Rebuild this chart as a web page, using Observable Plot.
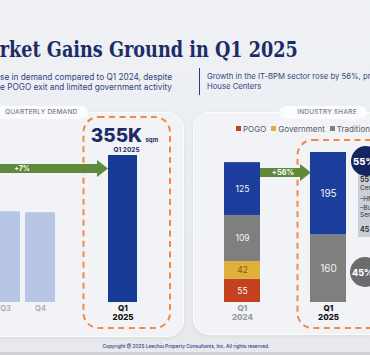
<!DOCTYPE html>
<html><head><meta charset="utf-8">
<script src="https://cdn.jsdelivr.net/npm/d3@7"></script>
<script src="https://cdn.jsdelivr.net/npm/@observablehq/plot@0.6"></script>
<style>
html,body{margin:0;padding:0;}
body{width:370px;height:355px;overflow:hidden;position:relative;
  background:linear-gradient(180deg,#eff1f5 0%,#eaedf1 55%,#e8e9ec 100%);
  font-family:Inter,"Open Sans",sans-serif;}
.abs{position:absolute;}
#title{right:72px;top:36px;white-space:nowrap;font-family:"DejaVu Serif",serif;font-weight:bold;font-size:22px;color:#1c2c66;transform-origin:right center;}
.sub{font-size:8px;line-height:10px;color:#34457e;white-space:nowrap;}
.card{background:#f1f3f6;border:1px solid #fbfcfd;border-radius:16px;box-shadow:0 1px 4px rgba(40,50,80,0.08);}
.pill{background:#fbfcfd;border-radius:7px;height:13px;font-size:6.5px;line-height:13px;color:#7b7b7e;font-weight:500;letter-spacing:0.2px;white-space:nowrap;}
.plot{position:absolute;left:0;top:0;}
#legend{left:236px;top:124px;font-size:8px;color:#5a5a5e;white-space:nowrap;}
#legend span.sw{display:inline-block;width:5px;height:5px;margin-right:2px;vertical-align:1px;}
#legend span.it{margin-right:5px;}
#box{left:358px;top:172px;width:30px;height:65px;background:#cacfd7;overflow:hidden;font-size:6.5px;color:#333;line-height:8px;white-space:nowrap;}
#copy{left:0;width:372px;top:343px;text-align:center;font-size:4.8px;color:#2b3b7d;font-weight:500;white-space:nowrap;}
</style></head>
<body>
<div id="title" class="abs">Office Market Gains Ground in Q1 2025</div>
<div id="subL" class="abs sub" style="right:198px;top:72px;text-align:right;">
  <div>A 7% increase in demand compared to Q1 2024, despite</div>
  <div>the POGO exit and limited government activity</div>
</div>
<div class="abs" style="left:198.5px;top:68px;width:1.5px;height:27px;background:#2c3c78;"></div>
<div id="subR" class="abs sub" style="left:207px;top:72px;">
  <div>Growth in the IT-BPM sector rose by 56%, primarily driven by In-</div>
  <div>House Centers</div>
</div>

<div class="abs card" style="left:-20px;top:112px;width:202px;height:223px;"></div>
<div class="abs card" style="left:193px;top:112px;width:220px;height:221px;"></div>
<div class="abs pill" style="left:-20px;top:106px;width:108px;padding-left:25px;box-sizing:border-box;">QUARTERLY DEMAND</div>
<div class="abs pill" style="left:279px;top:106px;width:88px;text-align:center;padding-left:8px;box-sizing:border-box;">INDUSTRY SHARE</div>

<svg class="abs" style="left:0;top:0" width="370" height="355">
  <rect x="83.5" y="117" width="86.5" height="211" rx="15" fill="none" stroke="#f28a46" stroke-width="2" stroke-dasharray="6 4.5"/>
  <rect x="297.5" y="140" width="120" height="188" rx="15" fill="none" stroke="#f28a46" stroke-width="2" stroke-dasharray="6 4.5"/>
</svg>

<div id="legend" class="abs"></div>
<div id="charts"></div>

<svg id="deco" class="abs" style="left:0;top:0" width="370" height="355"></svg>
<div id="box" class="abs">
  <div style="padding:4px 0 0 2px">
    <div style="font-weight:700;font-size:7px">55% IT-BPM</div>
    <div>Centers</div>
    <div style="margin-top:3px">–HMO</div>
    <div style="margin-top:1px">–Business</div>
    <div style="margin-top:-1px">Services</div>
    <div style="font-weight:700;font-size:7px;margin-top:7px">45% Traditional</div>
  </div>
</div>
<svg id="deco2" class="abs" style="left:0;top:0" width="370" height="355"></svg>
<div id="copy" class="abs">Copyright @ 2025 Leechiu Property Consultants, Inc. All rights reserved.</div>
<div class="abs" style="left:0;top:352px;width:370px;height:3px;background:#cfd1d5;"></div>

<script>
// ---- data ----
const histQuarters = ["Q3", "Q4"];
const histValues = [219, 217];           // thousand sqm
const currentQuarter = "Q1 2025";
const currentValue = 355;                // thousand sqm

const shareQuarters = ["Q1 2024", "Q1 2025"];
const sectors = ["POGO", "Government", "Traditional", "IT-BPM"];
const pogoValues = [55, 0];
const governmentValues = [42, 0];
const traditionalValues = [109, 160];
const itbpmValues = [125, 195];
const legendSectors = ["POGO", "Government", "Traditional"];

// ---- styles ----
const sectorColors = {"POGO": "#c4411f", "Government": "#dfb13b", "Traditional": "#7f7f80", "IT-BPM": "#1d3d9d"};
const FONT = "Inter, 'Open Sans', sans-serif";

const hist = histQuarters.map((q, i) => ({quarter: q, value: histValues[i]}));
const current = [{quarter: currentQuarter, value: currentValue}];
const seriesBySector = {"POGO": pogoValues, "Government": governmentValues, "Traditional": traditionalValues, "IT-BPM": itbpmValues};
const shares = [];
shareQuarters.forEach((q, i) => sectors.forEach(s => {
  const v = seriesBySector[s][i];
  if (v > 0) shares.push({quarter: q, sector: s, value: v});
}));
const totals = shareQuarters.map((q, i) => sectors.reduce((a, s) => a + seriesBySector[s][i], 0));
const totalGrowth = Math.round((totals[1] / totals[0] - 1) * 100);
const itGrowth = Math.round((itbpmValues[1] / itbpmValues[0] - 1) * 100);

const charts = document.getElementById("charts");
function add(p) { p.classList.add("plot"); p.style.background = "transparent"; charts.appendChild(p); }

// left: history bars
add(Plot.plot({
  width: 370, height: 355, margin: 0,
  style: {fontFamily: FONT, background: "transparent"},
  x: {type: "band", domain: histQuarters, range: [-10, 55], paddingInner: 0.143, paddingOuter: 0, axis: null},
  y: {domain: [0, 355], range: [302, 155], axis: null},
  marks: [
    Plot.barY(hist, {x: "quarter", y: "value", fill: "#b8c6e5"}),
    Plot.text(hist, {x: "quarter", y: 0, text: "quarter", dy: 6.5, fill: "#a8aaae", fontSize: 7.5, fontWeight: 600})
  ]
}));

// left: current quarter bar
add(Plot.plot({
  width: 370, height: 355, margin: 0,
  style: {fontFamily: FONT, background: "transparent"},
  x: {type: "band", domain: [currentQuarter], range: [108, 137], padding: 0, axis: null},
  y: {domain: [0, 355], range: [302, 155], axis: null},
  marks: [
    Plot.barY(current, {x: "quarter", y: "value", fill: "#163a96"}),
    Plot.text(current, {x: "quarter", y: "value", text: d => d.value + "K", dx: -6.5, dy: -20, fill: "#1b2c69", fontSize: 19, fontWeight: 800}),
    Plot.text(current, {x: "quarter", y: "value", text: () => "sqm", textAnchor: "start", dx: 22.5, dy: -15, fill: "#1b2c69", fontSize: 6, fontWeight: 700}),
    Plot.text(current, {x: "quarter", y: "value", text: "quarter", dx: 3.5, dy: -6, fill: "#1b2c69", fontSize: 6.5, fontWeight: 700}),
    Plot.text(current, {x: "quarter", y: 0, text: d => d.quarter.replace(" ", "\n"), dy: 10.5, lineHeight: 1.12, fill: "#111", fontSize: 8, fontWeight: 800})
  ]
}));

// right: industry share stacked bars
add(Plot.plot({
  width: 370, height: 355, margin: 0,
  style: {fontFamily: FONT, background: "transparent"},
  color: {type: "identity"},
  x: {type: "band", domain: shareQuarters, range: [223, 346], paddingInner: 0.584, paddingOuter: 0, axis: null},
  y: {domain: [0, 355], range: [302, 152], axis: null},
  marks: [
    Plot.barY(shares, {x: "quarter", y: "value", fill: d => sectorColors[d.sector]}),
    Plot.text(shares, Plot.stackY({x: "quarter", y: "value", text: d => String(d.value),
      fill: d => d.sector === "Government" ? "#74591c" : "#f4f4f6",
      fontSize: d => d.quarter === "Q1 2025" ? 10 : 8.5, fontWeight: 400})),
    Plot.text(shareQuarters, {x: d => d, y: () => 0, text: d => d.replace(" ", "\n"), dy: 10.5, lineHeight: 1.12,
      fill: d => d === "Q1 2025" ? "#111" : "#9b9b9f", fontSize: 8, fontWeight: 800})
  ]
}));

// legend
document.getElementById("legend").innerHTML = legendSectors.map(s =>
  `<span class="sw" style="background:${sectorColors[s]}"></span><span class="it">${s}</span>`).join("");

// arrows and badges
const NS = "http://www.w3.org/2000/svg";
function el(svg, tag, attrs, text) {
  const e = document.createElementNS(NS, tag);
  for (const k in attrs) e.setAttribute(k, attrs[k]);
  if (text != null) e.textContent = text;
  document.getElementById(svg).appendChild(e);
  return e;
}
el("deco", "polygon", {points: "-5,164 97,164 97,160 108,168.5 97,177 97,173 -5,173", fill: "#5f8a3b"});
el("deco", "text", {x: 22, y: 171.3, "text-anchor": "middle", fill: "#fff", "font-size": 7, "font-weight": 700, "font-family": FONT}, `+${totalGrowth}%`);
el("deco", "polygon", {points: "260,168 300,168 300,164 311,172.5 300,181 300,177 260,177", fill: "#5f8a3b"});
el("deco", "text", {x: 283, y: 175.3, "text-anchor": "middle", fill: "#fff", "font-size": 7.5, "font-weight": 700, "font-family": FONT}, `+${itGrowth}%`);

const itShare = Math.round(itbpmValues[1] / totals[1] * 100);
el("deco2", "circle", {cx: 366, cy: 161, r: 15, fill: "#14245e"});
el("deco2", "text", {x: 353, y: 164.5, fill: "#fff", "font-size": 9.5, "font-weight": 800, "font-family": FONT}, `${itShare}%`);
el("deco2", "circle", {cx: 365, cy: 272, r: 15, fill: "#6c6c6e"});
el("deco2", "text", {x: 352, y: 275.5, fill: "#fff", "font-size": 9, "font-weight": 800, "font-family": FONT}, `${100 - itShare}%`);

// fit texts to the reference widths
const ctx = document.createElement("canvas").getContext("2d");
function measure(font, s) { ctx.font = font; return ctx.measureText(s).width; }
(function () {
  const t = document.getElementById("title");
  const w = measure("bold 22px 'DejaVu Serif'", "rket Gains Ground in Q1 2025");
  t.style.transform = `scaleX(${298 / w})`;
  const wl = measure("8px Inter", "se in demand compared to Q1 2024, despite");
  document.getElementById("subL").style.fontSize = (8 * 172 / wl) + "px";
  const wr = measure("8px Inter", "Growth in the IT-BPM sector rose by 56%, p");
  document.getElementById("subR").style.fontSize = (8 * 161 / wr) + "px";
})();
</script>
</body></html>
